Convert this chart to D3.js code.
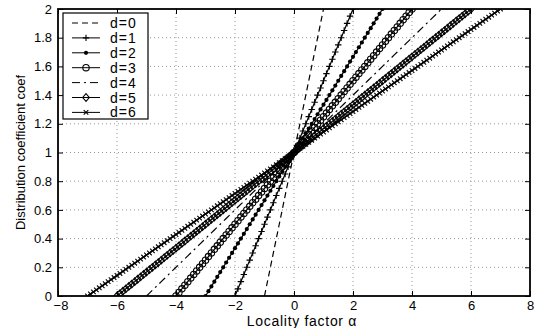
<!DOCTYPE html>
<html><head><meta charset="utf-8">
<script src="https://cdn.jsdelivr.net/npm/d3@7"></script>
<style>
body{margin:0;background:#fff;}
text{font-family:"Liberation Sans",Arial,Helvetica,sans-serif;}
</style></head>
<body><svg id="c" width="539" height="328"></svg>
<script>
// Data
const seriesNames = ["d=0","d=1","d=2","d=3","d=4","d=5","d=6"];
const alphaAtZero = [-1,-2,-3,-4,-5,-6,-7];   // alpha where coef = 0
const alphaAtTwo  = [1,2,3,4,5,6,7];          // alpha where coef = 2
const dashStyles  = ["6,4","","","","8,4,2,4","",""];
const markerTypes = ["none","plus","dot","circle","none","diamond","cross"];
const alphaStep = 0.1;
const xTicks = [-8,-6,-4,-2,0,2,4,6,8];
const yTicks = [0,0.2,0.4,0.6,0.8,1,1.2,1.4,1.6,1.8,2];

const W=539,H=328, m={l:58,r:9,t:9,b:32};
const svg=d3.select("#c");
const x=d3.scaleLinear().domain([-8,8]).range([m.l,W-m.r]);
const y=d3.scaleLinear().domain([0,2]).range([H-m.b,m.t]);

svg.append("defs").append("clipPath").attr("id","clip").append("rect")
  .attr("x",m.l).attr("y",m.t).attr("width",W-m.l-m.r).attr("height",H-m.t-m.b);

// grid
const g=svg.append("g");
g.selectAll(".gx").data(xTicks.slice(1,-1)).join("line")
  .attr("x1",d=>x(d)).attr("x2",d=>x(d)).attr("y1",m.t).attr("y2",H-m.b)
  .attr("stroke","#999").attr("stroke-width",1).attr("stroke-dasharray","1,3");
g.selectAll(".gy").data(yTicks.slice(1,-1)).join("line")
  .attr("y1",d=>y(d)).attr("y2",d=>y(d)).attr("x1",m.l).attr("x2",W-m.r)
  .attr("stroke","#999").attr("stroke-width",1).attr("stroke-dasharray","1,3");

// series
const series=seriesNames.map((name,i)=>{
  const a0=alphaAtZero[i], a1=alphaAtTwo[i];
  const n=Math.round((a1-a0)/alphaStep);
  const pts=d3.range(n+1).map(k=>{const a=a0+k*alphaStep; return [a, 2*(a-a0)/(a1-a0)];});
  return {name,pts,dash:dashStyles[i],marker:markerTypes[i]};
});

function drawMarker(sel,type,cx,cy){
  const s=3.2;
  if(type==="plus"){
    sel.append("path").attr("d",`M${cx-s},${cy}H${cx+s}M${cx},${cy-s}V${cy+s}`).attr("stroke","#000").attr("stroke-width",1.1).attr("fill","none");
  } else if(type==="dot"){
    sel.append("circle").attr("cx",cx).attr("cy",cy).attr("r",2.1).attr("fill","#000");
  } else if(type==="circle"){
    sel.append("circle").attr("cx",cx).attr("cy",cy).attr("r",3.2).attr("fill","none").attr("stroke","#000").attr("stroke-width",1.1);
  } else if(type==="diamond"){
    sel.append("path").attr("d",`M${cx},${cy-3.8}L${cx+3.3},${cy}L${cx},${cy+3.8}L${cx-3.3},${cy}Z`).attr("fill","none").attr("stroke","#000").attr("stroke-width",1.1);
  } else if(type==="cross"){
    const t=2.3;
    sel.append("path").attr("d",`M${cx-t},${cy-t}L${cx+t},${cy+t}M${cx-t},${cy+t}L${cx+t},${cy-t}`).attr("stroke","#000").attr("stroke-width",1.1).attr("fill","none");
  }
}

const plot=svg.append("g").attr("clip-path","url(#clip)");
const line=d3.line().x(d=>x(d[0])).y(d=>y(d[1]));
series.forEach(s=>{
  plot.append("path").datum(s.pts).attr("d",line).attr("fill","none")
    .attr("stroke","#000").attr("stroke-width",1.2)
    .attr("stroke-dasharray",s.dash||null);
  if(s.marker!=="none"){
    const mg=plot.append("g");
    s.pts.forEach(p=>drawMarker(mg,s.marker,x(p[0]),y(p[1])));
  }
});

// frame & axes
svg.append("rect").attr("x",m.l).attr("y",m.t).attr("width",W-m.l-m.r).attr("height",H-m.t-m.b)
  .attr("fill","none").attr("stroke","#000").attr("stroke-width",1.8);

const fmt=d=>String(d).replace("-","\u2212");
const xa=svg.append("g").attr("transform",`translate(0,${H-m.b})`)
  .call(d3.axisBottom(x).tickValues(xTicks).tickSize(-5).tickPadding(4.5).tickFormat(fmt));
svg.append("g").attr("transform",`translate(${m.l},0)`)
  .call(d3.axisLeft(y).tickValues(yTicks).tickSize(-5).tickPadding(6).tickFormat(fmt));
svg.append("g").attr("transform",`translate(0,${m.t})`)
  .call(d3.axisTop(x).tickValues(xTicks).tickSize(-5).tickFormat(""));
svg.append("g").attr("transform",`translate(${W-m.r},0)`)
  .call(d3.axisRight(y).tickValues(yTicks).tickSize(-5).tickFormat(""));
svg.selectAll(".domain").remove();
svg.selectAll(".tick line").attr("stroke","#000");
svg.selectAll(".tick text").attr("font-size",13).attr("fill","#000").attr("font-family","Liberation Sans, Arial, sans-serif");
// nudge the corner label so it clears the y-axis "0"
xa.selectAll(".tick text").filter(d=>d===xTicks[0]).attr("dx",2.5);

// axis labels
svg.append("text").attr("x",(m.l+W-m.r)/2+8).attr("y",326).attr("text-anchor","middle")
  .attr("font-size",14).attr("letter-spacing",0.7).text("Locality factor \u03b1");
svg.append("text").attr("transform",`translate(25,${(m.t+H-m.b)/2}) rotate(-90)`)
  .attr("text-anchor","middle").attr("font-size",13).text("Distribution coefficient coef");

// legend
const lg=svg.append("g");
lg.append("rect").attr("x",63).attr("y",13).attr("width",85).attr("height",106)
  .attr("fill","#fff").attr("stroke","#000").attr("stroke-width",1.2);
series.forEach((s,i)=>{
  const yy=23+i*14.9;
  lg.append("line").attr("x1",72).attr("x2",100).attr("y1",yy).attr("y2",yy)
    .attr("stroke","#000").attr("stroke-width",1).attr("stroke-dasharray",s.dash||null);
  if(s.marker!=="none") drawMarker(lg,s.marker,86,yy);
  lg.append("text").attr("x",110).attr("y",yy+5).attr("font-size",14).attr("letter-spacing",1).text(s.name);
});
</script></body></html>
